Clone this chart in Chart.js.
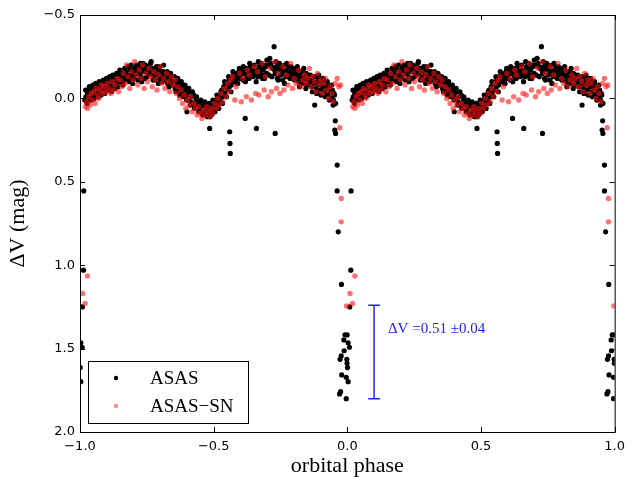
<!DOCTYPE html>
<html>
<head>
<meta charset="utf-8">
<script src="https://cdn.jsdelivr.net/npm/chart.js@4.4.1/dist/chart.umd.min.js"></script>
<style>
  html, body { margin: 0; padding: 0; background: #fff; }
  #wrap { width: 632px; height: 477px; }
</style>
</head>
<body>
<div id="wrap"><canvas id="lc"></canvas></div>
<script>
// phased light curve, phase in [0,1); plotted again at phase-1
const asasPhase = [
  0.018,0.022,0.025,0.028,0.031,0.034,0.037,0.040,0.043,0.046,0.049,0.052,0.055,0.058,0.061,0.064,0.067,0.070,0.073,0.076,
  0.079,0.082,0.085,0.088,0.091,0.094,0.097,0.100,0.104,0.108,0.112,0.116,0.120,0.124,0.128,0.132,0.136,0.140,0.144,0.148,
  0.152,0.156,0.160,0.164,0.168,0.172,0.176,0.180,0.184,0.188,0.192,0.196,0.200,0.204,0.208,0.212,0.216,0.220,0.224,0.228,
  0.232,0.236,0.240,0.244,0.248,0.252,0.256,0.260,0.264,0.268,0.272,0.276,0.280,0.284,0.288,0.292,0.296,0.300,0.304,0.308,
  0.312,0.316,0.320,0.324,0.328,0.332,0.336,0.340,0.344,0.348,0.352,0.356,0.360,0.364,0.368,0.372,0.376,0.380,0.384,0.388,
  0.392,0.396,0.400,0.402,0.406,0.410,0.414,0.418,0.422,0.426,0.430,0.434,0.438,0.442,0.446,0.450,0.454,0.458,0.462,0.466,
  0.470,0.474,0.478,0.482,0.485,0.486,0.490,0.494,0.498,0.502,0.506,0.510,0.514,0.518,0.522,0.526,0.530,0.534,0.538,0.542,
  0.546,0.550,0.554,0.558,0.560,0.561,0.562,0.562,0.566,0.570,0.574,0.578,0.582,0.586,0.590,0.594,0.598,0.602,0.606,0.610,
  0.614,0.618,0.620,0.624,0.628,0.632,0.636,0.640,0.644,0.648,0.652,0.656,0.660,0.662,0.666,0.670,0.674,0.678,0.682,0.686,
  0.690,0.694,0.698,0.702,0.706,0.710,0.714,0.718,0.722,0.726,0.728,0.730,0.730,0.734,0.738,0.742,0.746,0.750,0.754,0.758,
  0.762,0.766,0.770,0.774,0.778,0.782,0.786,0.790,0.794,0.798,0.802,0.806,0.810,0.814,0.818,0.822,0.826,0.830,0.834,0.838,
  0.842,0.846,0.850,0.854,0.858,0.862,0.866,0.870,0.874,0.878,0.880,0.884,0.888,0.892,0.896,0.900,0.904,0.908,0.912,0.916,
  0.920,0.924,0.928,0.932,0.936,0.940,0.944,0.948,0.952,0.956,
  0.021,0.027,0.035,0.039,0.048,0.053,0.059,0.068,0.072,0.081,
  0.087,0.093,0.099,0.106,0.111,0.118,0.123,0.131,0.137,0.142,
  0.149,0.155,0.161,0.167,0.173,0.179,0.186,0.191,0.197,0.203,
  0.211,0.218,0.226,0.231,0.238,0.245,0.251,0.258,0.266,0.273,
  0.279,0.286,0.293,0.299,0.306,0.313,0.319,0.326,0.333,0.339,
  0.346,0.353,0.359,0.366,0.373,0.379,0.386,0.393,0.399,0.407,
  0.413,0.421,0.428,0.436,0.444,0.452,0.459,0.467,0.476,0.483,
  0.491,0.497,0.505,0.512,0.519,0.527,0.533,0.541,0.548,0.556,
  0.565,0.572,0.579,0.588,0.596,0.604,0.611,0.619,0.627,0.635,
  0.643,0.651,0.659,0.667,0.675,0.683,0.691,0.699,0.707,0.716,
  0.724,0.733,0.741,0.749,0.757,0.765,0.773,0.781,0.789,0.797,
  0.805,0.813,0.821,0.829,0.837,0.845,0.853,0.861,0.869,0.877,
  0.885,0.893,0.901,0.909,0.917,0.925,0.933,0.941,0.947,0.950,
  // eclipse
  0.955,0.953,0.956,0.962,0.962,0.966,0.978,0.971,0.975,0.973,0.977,0.979,0.987,0.988,0.991,0.996,0.996,0.998,0.999,0.9993,
  0.0007,0.003,0.003,0.008,0.009,0.013,0.014
];
const asasMag = [
  0.01,-0.01,0.02,-0.03,0.00,-0.05,-0.02,-0.04,0.01,-0.06,-0.03,-0.05,-0.02,-0.07,-0.04,-0.06,-0.03,-0.08,-0.05,-0.07,
  -0.02,-0.09,-0.06,-0.04,-0.08,-0.10,-0.06,-0.09,-0.05,-0.11,-0.08,-0.10,-0.06,-0.12,-0.09,-0.13,-0.08,-0.11,-0.14,-0.10,
  -0.12,-0.15,-0.09,-0.13,-0.11,-0.16,-0.12,-0.14,-0.10,-0.17,-0.13,-0.15,-0.12,-0.18,-0.14,-0.16,-0.11,-0.15,-0.19,-0.13,
  -0.17,-0.21,-0.18,-0.12,-0.16,-0.19,-0.14,-0.17,-0.21,-0.15,-0.18,-0.13,-0.16,-0.11,-0.17,-0.14,-0.19,-0.12,-0.15,-0.10,
  -0.16,-0.13,-0.11,-0.15,-0.09,-0.13,-0.11,-0.14,-0.08,-0.12,-0.10,-0.06,-0.11,-0.08,-0.05,-0.09,-0.06,-0.03,-0.08,-0.05,
  -0.02,-0.06,0.08,-0.03,0.00,-0.04,0.02,-0.01,0.03,-0.02,0.04,0.01,0.05,0.02,0.06,0.03,0.08,0.05,0.09,0.04,
  0.07,0.10,0.05,0.08,0.18,0.11,0.06,0.09,0.04,0.07,0.02,0.05,0.00,0.03,-0.02,0.01,-0.05,-0.01,-0.07,-0.03,
  -0.09,-0.05,-0.10,-0.07,0.20,0.27,0.33,-0.12,-0.08,-0.13,-0.10,-0.15,-0.11,-0.14,-0.09,-0.16,-0.12,-0.14,-0.17,-0.11,
  -0.15,0.12,-0.18,-0.13,-0.16,-0.12,-0.19,-0.14,-0.17,-0.13,-0.20,-0.15,0.18,-0.17,-0.13,-0.19,-0.15,-0.21,-0.14,-0.17,
  -0.12,-0.19,-0.15,-0.20,-0.14,-0.24,-0.21,-0.13,-0.18,-0.31,-0.17,0.21,-0.15,-0.19,-0.12,-0.17,-0.21,-0.14,-0.18,-0.11,
  -0.16,-0.20,-0.13,-0.17,-0.15,-0.19,-0.12,-0.16,-0.14,-0.18,-0.11,-0.15,-0.13,-0.17,-0.10,-0.14,-0.12,-0.16,-0.09,-0.13,
  -0.11,-0.15,-0.08,-0.12,-0.10,-0.14,-0.07,-0.11,-0.09,0.04,-0.13,-0.06,-0.10,-0.08,-0.12,-0.05,-0.09,-0.07,-0.11,-0.04,
  -0.08,-0.06,-0.02,-0.07,-0.04,-0.01,-0.05,0.01,-0.02,0.03,
  -0.05,0.03,-0.07,-0.01,-0.08,0.00,-0.09,-0.01,-0.10,-0.04,
  -0.11,-0.03,-0.12,-0.07,-0.13,-0.04,-0.14,-0.06,-0.15,-0.07,
  -0.17,-0.12,-0.08,-0.18,-0.14,-0.19,-0.11,-0.20,-0.09,-0.16,
  -0.20,-0.17,-0.21,-0.10,-0.16,-0.20,-0.13,-0.18,-0.22,-0.11,
  -0.18,-0.19,-0.09,-0.17,-0.13,-0.20,-0.14,-0.16,-0.07,-0.15,
  -0.10,-0.13,-0.04,-0.12,-0.02,-0.10,-0.01,-0.08,0.01,-0.06,
  0.04,-0.04,0.06,-0.01,0.08,0.01,0.10,0.02,0.11,0.03,
  0.10,0.01,0.08,-0.02,0.06,-0.04,0.03,-0.10,-0.01,-0.13,
  -0.04,-0.16,-0.12,-0.09,-0.18,-0.15,-0.19,-0.10,-0.17,-0.21,
  -0.15,-0.17,-0.10,-0.22,-0.18,-0.12,-0.20,-0.23,-0.14,-0.19,
  -0.18,-0.22,-0.11,-0.20,-0.15,-0.09,-0.21,-0.13,-0.19,-0.12,
  -0.15,-0.19,-0.07,-0.12,-0.18,-0.06,-0.14,-0.10,-0.04,-0.13,
  -0.03,-0.14,-0.02,-0.12,-0.01,-0.10,0.01,-0.08,0.04,-0.03,
  // eclipse
  0.134,0.19,0.21,0.40,0.555,0.80,1.115,1.772,1.758,1.564,1.544,1.658,1.448,1.513,1.417,1.672,1.80,1.564,1.588,1.418,
  1.614,1.465,1.698,1.492,1.25,1.03,0.555
];

const asassnPhase = [
  0.020,0.024,0.028,0.033,0.038,0.042,0.047,0.052,0.056,0.061,0.066,0.070,0.075,0.080,0.085,0.090,0.096,0.102,0.108,0.114,
  0.120,0.126,0.132,0.138,0.144,0.150,0.156,0.162,0.168,0.174,0.180,0.186,0.192,0.198,0.204,0.210,0.216,0.222,0.228,0.234,
  0.240,0.246,0.252,0.258,0.264,0.270,0.276,0.282,0.288,0.294,0.300,0.306,0.312,0.318,0.324,0.330,0.336,0.342,0.348,0.354,
  0.360,0.366,0.372,0.378,0.384,0.390,0.396,0.402,0.408,0.414,0.420,0.426,0.432,0.438,0.444,0.450,0.456,0.462,0.468,0.474,
  0.480,0.486,0.492,0.498,0.504,0.510,0.516,0.522,0.528,0.534,0.540,0.546,0.552,0.558,0.564,
  0.571,0.579,0.584,0.597,0.603,0.609,0.622,0.626,0.633,0.641,0.652,0.657,0.664,0.669,0.681,0.689,0.693,0.704,0.711,0.716,
  0.729,0.735,0.741,0.748,0.759,0.763,0.772,0.778,0.788,0.795,0.801,0.809,0.818,0.826,0.833,
  0.840,0.846,0.852,0.858,0.864,0.870,0.876,0.882,0.888,0.894,0.900,0.906,0.912,0.918,0.924,0.930,0.936,0.942,0.948,0.955,
  0.962,0.968,0.974,
  // eclipse
  0.972,0.977,0.977,0.997,0.010,0.019,0.028
];
const asassnMag = [
  0.05,0.02,0.06,-0.01,0.04,-0.03,0.01,-0.04,0.03,-0.06,-0.02,0.00,-0.05,-0.08,-0.03,-0.07,-0.04,-0.09,-0.06,-0.03,
  -0.10,-0.05,-0.08,-0.12,-0.04,-0.11,-0.07,-0.15,-0.09,-0.20,-0.13,-0.06,-0.16,-0.11,-0.22,-0.14,-0.08,-0.17,-0.12,-0.20,
  -0.06,-0.15,-0.10,-0.18,-0.13,-0.07,-0.16,-0.11,-0.05,-0.14,-0.19,-0.09,-0.12,-0.06,-0.15,-0.10,-0.04,-0.13,-0.08,-0.11,
  -0.03,-0.07,0.00,-0.05,0.03,-0.02,0.06,0.01,0.04,-0.01,0.08,0.03,0.06,0.10,0.05,0.09,0.12,0.07,0.10,0.05,
  0.08,0.11,0.06,0.09,0.03,0.06,0.00,0.04,-0.03,0.02,-0.06,-0.01,-0.09,-0.04,-0.11,
  -0.13,0.01,-0.07,-0.15,0.02,-0.12,-0.01,-0.17,-0.14,0.01,-0.19,-0.03,-0.16,-0.02,-0.21,-0.05,-0.13,-0.01,-0.18,-0.04,
  -0.22,-0.06,-0.15,-0.03,-0.19,-0.05,-0.14,-0.08,-0.21,-0.06,-0.12,-0.09,-0.17,-0.07,-0.11,
  -0.14,-0.09,-0.12,-0.18,-0.07,-0.13,-0.10,-0.04,-0.15,-0.08,-0.11,-0.03,-0.09,-0.12,-0.05,0.00,-0.07,-0.03,0.02,-0.09,
  -0.12,-0.07,-0.08,
  // eclipse
  0.176,0.60,0.74,1.245,1.17,1.23,1.065
];

// error bar marking the eclipse depth
const barX = 0.1;
const barTop = 1.24;
const barBottom = 1.80;
const barCap = 0.022;
const barLabel = 'ΔV =0.51 ±0.04';

const xTicks = [-1, -0.5, 0, 0.5, 1];
const yTicks = [-0.5, 0, 0.5, 1, 1.5, 2];

function folded(phase, mag) {
  const pts = [];
  phase.forEach((p, i) => {
    pts.push({ x: p, y: mag[i] });
    pts.push({ x: p - 1, y: mag[i] });
  });
  return pts;
}

const fmtTick = v => (v < 0 ? '\u2212' : '') + Math.abs(v).toFixed(1);
const serif = '"Liberation Serif", "DejaVu Serif", serif';

const frame = {
  id: 'frame',
  afterDraw(chart) {
    const { ctx, chartArea: a, scales } = chart;
    const x = scales.x, y = scales.y;
    ctx.save();
    ctx.strokeStyle = '#000';
    ctx.lineWidth = 1;
    ctx.strokeRect(a.left + 0.5, a.top + 0.5, a.right - a.left, a.bottom - a.top);
    ctx.beginPath();
    xTicks.forEach(v => {
      const px = Math.round(x.getPixelForValue(v)) + 0.5;
      ctx.moveTo(px, a.bottom); ctx.lineTo(px, a.bottom - 5);
      ctx.moveTo(px, a.top); ctx.lineTo(px, a.top + 5);
    });
    yTicks.forEach(v => {
      const py = Math.round(y.getPixelForValue(v)) + 0.5;
      ctx.moveTo(a.left, py); ctx.lineTo(a.left + 5, py);
      ctx.moveTo(a.right, py); ctx.lineTo(a.right - 5, py);
    });
    ctx.stroke();

    // annotation text
    ctx.fillStyle = '#2020ff';
    ctx.font = '15px ' + serif;
    ctx.textBaseline = 'middle';
    ctx.textAlign = 'left';
    ctx.fillText(barLabel, x.getPixelForValue(0.152), y.getPixelForValue(1.38));

    // legend box, lower left inside the axes
    const bx = a.left + 8, by = a.bottom - 71, bw = 160, bh = 62;
    ctx.fillStyle = '#fff';
    ctx.fillRect(bx, by, bw, bh);
    ctx.strokeStyle = '#000';
    ctx.strokeRect(bx + 0.5, by + 0.5, bw, bh);
    const rows = [['ASAS', '#000'], ['ASAS\u2212SN', 'rgba(255,40,40,0.55)']];
    rows.forEach(([label, col], i) => {
      const cy = by + 17 + i * 28;
      ctx.fillStyle = col;
      ctx.beginPath();
      ctx.arc(bx + 28, cy, 2.2, 0, Math.PI * 2);
      ctx.fill();
      ctx.fillStyle = '#000';
      ctx.font = '19px ' + serif;
      ctx.fillText(label, bx + 62, cy + 1);
    });
    ctx.restore();
  }
};

new Chart(document.getElementById('lc'), {
  type: 'scatter',
  data: {
    datasets: [
      { label: 'ASAS-SN', data: folded(asassnPhase, asassnMag), backgroundColor: 'rgba(255,20,20,0.6)', borderWidth: 0, pointRadius: 2.7, clip: 0 },
      { label: 'ASAS', data: folded(asasPhase, asasMag), backgroundColor: '#000', borderWidth: 0, pointRadius: 2.6, clip: 0 },
      { data: [{ x: barX, y: barTop }, { x: barX, y: barBottom }], showLine: true, borderColor: '#2020ff', borderWidth: 1.5, pointRadius: 0 },
      { data: [{ x: barX - barCap, y: barTop }, { x: barX + barCap, y: barTop }], showLine: true, borderColor: '#2020ff', borderWidth: 1.5, pointRadius: 0 },
      { data: [{ x: barX - barCap, y: barBottom }, { x: barX + barCap, y: barBottom }], showLine: true, borderColor: '#2020ff', borderWidth: 1.5, pointRadius: 0 },
    ],
  },
  options: {
    responsive: true,
    maintainAspectRatio: false,
    animation: false,
    layout: { padding: { top: 15, right: 15, left: 0, bottom: 0 } },
    plugins: { legend: { display: false }, tooltip: { enabled: false } },
    scales: {
      x: {
        type: 'linear', min: -1, max: 1,
        afterFit: s => { s.height = 45; },
        afterBuildTicks: s => { s.ticks = xTicks.map(v => ({ value: v })); },
        grid: { display: false, drawTicks: false },
        border: { display: false },
        ticks: { color: '#000', padding: 7, font: { family: 'DejaVu Sans', size: 13 }, callback: fmtTick, maxRotation: 0 },
        title: { display: true, text: 'orbital phase', color: '#000', padding: 0, font: { family: serif, size: 22, lineHeight: 1 } },
      },
      y: {
        type: 'linear', min: -0.5, max: 2.0, reverse: true,
        afterFit: s => { s.width = 80; },
        afterBuildTicks: s => { s.ticks = yTicks.map(v => ({ value: v })); },
        grid: { display: false, drawTicks: false },
        border: { display: false },
        ticks: { color: '#000', padding: 5, font: { family: 'DejaVu Sans', size: 13 }, callback: fmtTick },
        title: { display: true, text: 'ΔV (mag)', color: '#000', padding: { top: 7, bottom: 0 }, font: { family: serif, size: 22, lineHeight: 1 } },
      },
    },
  },
  plugins: [frame],
});
</script>
</body>
</html>
